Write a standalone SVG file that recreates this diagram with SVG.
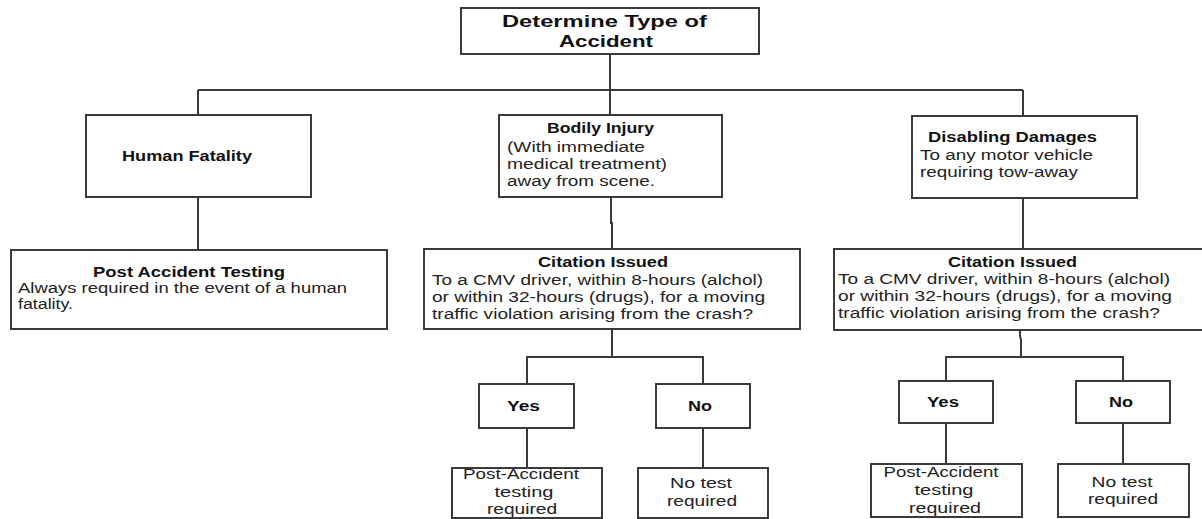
<svg xmlns="http://www.w3.org/2000/svg" width="1202" height="519" viewBox="0 0 1202 519">
  <style>
    .box { fill: #ffffff; stroke: #3a3a3a; stroke-width: 2; }
    .wire { fill: none; stroke: #3a3a3a; stroke-width: 2; }
    text { font-family: "Liberation Sans", Arial, sans-serif; fill: #1a1a1a; }
    .title { font-size: 17px; font-weight: bold; fill: #111111; }
    .b { font-size: 14px; font-weight: bold; fill: #111111; }
    .r { font-size: 14px; fill: #222222; }
  </style>
  <rect x="0" y="0" width="1202" height="519" fill="#ffffff"/>

  <!-- connectors -->
  <g id="connectors">
    <path class="wire" d="M610 54 V115"/>
    <path class="wire" d="M198 90 H1023"/>
    <path class="wire" d="M198 90 V115"/>
    <path class="wire" d="M1023 90 V116"/>
    <path class="wire" d="M198 197 V250"/>
    <path class="wire" d="M611 197 V223 H612 V249"/>
    <path class="wire" d="M1023 198 V249"/>
    <!-- middle branch -->
    <path class="wire" d="M612 329 V357"/>
    <path class="wire" d="M527 384 V357 H703 V384"/>
    <path class="wire" d="M527 428 V468"/>
    <path class="wire" d="M703 428 V468"/>
    <!-- right branch -->
    <path class="wire" d="M1020 330 V336 L1021 340 V357"/>
    <path class="wire" d="M946 381 V357 H1123 V381"/>
    <path class="wire" d="M946 423 V464"/>
    <path class="wire" d="M1123 423 V464"/>
  </g>

  <g id="determine-type">
    <rect class="box" x="461" y="8" width="298" height="46"/>
    <text class="title" x="502" y="27" textLength="205" lengthAdjust="spacingAndGlyphs">Determine Type of</text>
    <text class="title" x="559" y="47" textLength="94" lengthAdjust="spacingAndGlyphs">Accident</text>
  </g>

  <g id="human-fatality">
    <rect class="box" x="86" y="115" width="225" height="82"/>
    <text class="b" x="122" y="161" textLength="130" lengthAdjust="spacingAndGlyphs">Human Fatality</text>
  </g>

  <g id="post-accident-testing">
    <rect class="box" x="11" y="250" width="376" height="79"/>
    <text class="b" x="93" y="277" textLength="192" lengthAdjust="spacingAndGlyphs">Post Accident Testing</text>
    <text class="r" x="18" y="293" textLength="329" lengthAdjust="spacingAndGlyphs">Always required in the event of a human</text>
    <text class="r" x="18" y="309" textLength="55" lengthAdjust="spacingAndGlyphs">fatality.</text>
  </g>

  <g id="bodily-injury">
    <rect class="box" x="499" y="115" width="223" height="82"/>
    <text class="b" x="547" y="133" textLength="107" lengthAdjust="spacingAndGlyphs">Bodily Injury</text>
    <text class="r" x="507" y="152" textLength="138" lengthAdjust="spacingAndGlyphs">(With immediate</text>
    <text class="r" x="507" y="169" textLength="160" lengthAdjust="spacingAndGlyphs">medical treatment)</text>
    <text class="r" x="507" y="186" textLength="148" lengthAdjust="spacingAndGlyphs">away from scene.</text>
  </g>

  <g id="disabling-damages">
    <rect class="box" x="912" y="116" width="225" height="82"/>
    <text class="b" x="928" y="142" textLength="169" lengthAdjust="spacingAndGlyphs">Disabling Damages</text>
    <text class="r" x="920" y="160" textLength="173" lengthAdjust="spacingAndGlyphs">To any motor vehicle</text>
    <text class="r" x="920" y="177" textLength="158" lengthAdjust="spacingAndGlyphs">requiring tow-away</text>
  </g>

  <g id="citation-middle">
    <rect class="box" x="424" y="249" width="376" height="80"/>
    <text class="b" x="538" y="267" textLength="130" lengthAdjust="spacingAndGlyphs">Citation Issued</text>
    <text class="r" x="432" y="285" textLength="331" lengthAdjust="spacingAndGlyphs">To a CMV driver, within 8-hours (alchol)</text>
    <text class="r" x="432" y="302" textLength="333" lengthAdjust="spacingAndGlyphs">or within 32-hours (drugs), for a moving</text>
    <text class="r" x="432" y="319" textLength="321" lengthAdjust="spacingAndGlyphs">traffic violation arising from the crash?</text>
  </g>

  <g id="citation-right">
    <rect class="box" x="834" y="249" width="380" height="81"/>
    <text class="b" x="948" y="267" textLength="129" lengthAdjust="spacingAndGlyphs">Citation Issued</text>
    <text class="r" x="838" y="284" textLength="332" lengthAdjust="spacingAndGlyphs">To a CMV driver, within 8-hours (alchol)</text>
    <text class="r" x="838" y="301" textLength="334" lengthAdjust="spacingAndGlyphs">or within 32-hours (drugs), for a moving</text>
    <text class="r" x="838" y="318" textLength="322" lengthAdjust="spacingAndGlyphs">traffic violation arising from the crash?</text>
  </g>

  <g id="yes-middle">
    <rect class="box" x="479" y="384" width="95" height="44"/>
    <text class="b" x="507" y="411" textLength="33" lengthAdjust="spacingAndGlyphs">Yes</text>
  </g>
  <g id="no-middle">
    <rect class="box" x="656" y="384" width="94" height="44"/>
    <text class="b" x="688" y="411" textLength="24" lengthAdjust="spacingAndGlyphs">No</text>
  </g>
  <g id="yes-right">
    <rect class="box" x="899" y="381" width="94" height="42"/>
    <text class="b" x="927" y="407" textLength="32" lengthAdjust="spacingAndGlyphs">Yes</text>
  </g>
  <g id="no-right">
    <rect class="box" x="1076" y="381" width="94" height="42"/>
    <text class="b" x="1109" y="407" textLength="24" lengthAdjust="spacingAndGlyphs">No</text>
  </g>

  <g id="test-required-middle">
    <rect class="box" x="452" y="468" width="150" height="50"/>
    <text class="r" x="521" y="479" text-anchor="middle" textLength="116" lengthAdjust="spacingAndGlyphs">Post-Accident</text>
    <text class="r" x="524" y="497" text-anchor="middle" textLength="59" lengthAdjust="spacingAndGlyphs">testing</text>
    <text class="r" x="522" y="514" text-anchor="middle" textLength="70" lengthAdjust="spacingAndGlyphs">required</text>
  </g>
  <g id="no-test-middle">
    <rect class="box" x="638" y="468" width="130" height="50"/>
    <text class="r" x="701" y="488" text-anchor="middle" textLength="62" lengthAdjust="spacingAndGlyphs">No test</text>
    <text class="r" x="702" y="506" text-anchor="middle" textLength="70" lengthAdjust="spacingAndGlyphs">required</text>
  </g>
  <g id="test-required-right">
    <rect class="box" x="871" y="464" width="151" height="53"/>
    <text class="r" x="941" y="477" text-anchor="middle" textLength="115" lengthAdjust="spacingAndGlyphs">Post-Accident</text>
    <text class="r" x="944" y="495" text-anchor="middle" textLength="59" lengthAdjust="spacingAndGlyphs">testing</text>
    <text class="r" x="945" y="513" text-anchor="middle" textLength="72" lengthAdjust="spacingAndGlyphs">required</text>
  </g>
  <g id="no-test-right">
    <rect class="box" x="1058" y="464" width="131" height="53"/>
    <text class="r" x="1122" y="487" text-anchor="middle" textLength="61" lengthAdjust="spacingAndGlyphs">No test</text>
    <text class="r" x="1123" y="504" text-anchor="middle" textLength="70" lengthAdjust="spacingAndGlyphs">required</text>
  </g>
</svg>
